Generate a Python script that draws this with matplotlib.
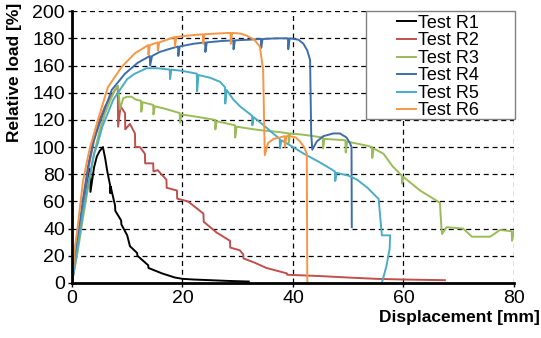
import matplotlib
matplotlib.use("Agg")
import matplotlib.pyplot as plt
from matplotlib.patches import Rectangle

# ---------------- data ----------------
r1_x = [0, 1, 2, 3.0, 3.3, 3.35, 4.0, 4.5, 5.0, 5.6, 6.0, 6.4, 6.9, 6.95, 7.0, 7.8, 7.85,
        8.9, 8.95, 10.0, 10.5, 11.8, 11.85, 13.8, 13.85, 16.3, 18.6, 20, 22, 25, 28, 32]
r1_y = [0, 30, 58, 80, 84, 67, 85, 93, 97, 100, 92, 82, 72, 66, 71, 57, 53,
        46, 43, 35, 27, 22, 20, 13, 11, 7, 4, 3, 2.5, 2, 1.5, 1]

r2_x = [0, 1, 2, 3, 4, 5, 6, 7, 8.3, 8.35, 8.8, 9.6, 9.65, 10.5, 11.4, 11.45, 12.3,
        13.2, 13.25, 14.7, 14.75, 15.5, 17.1, 17.15, 19.0, 19.05, 21.0, 23.8, 23.85,
        26.2, 28.6, 28.65, 30.4, 31.0, 31.05, 33.0, 35.2, 38.9, 38.95, 42, 45, 49.8, 55, 60, 67.5]
r2_y = [0, 28, 58, 85, 105, 120, 130, 137, 145, 115, 130, 125, 113, 117, 110, 100, 100,
        95, 88, 88, 82, 83, 76, 70, 68, 62, 60, 51, 45,
        37, 31, 26, 24, 21, 18, 15, 11, 7, 6, 5.5, 5, 4, 3, 2.5, 2]

r3_x = [0, 1, 2, 3, 4, 5, 6, 7, 7.8, 8.3, 8.5, 8.7, 9.3, 10.0, 10.8, 11.5, 12.5, 12.55,
        12.8, 14.7, 14.75, 15.0, 17.0, 19.5, 19.55, 19.8, 23, 25.9, 25.95, 26.2, 29.5,
        29.55, 29.8, 33, 35, 37.6, 39.2, 39.25, 39.5, 42, 45.4, 45.45, 45.7, 49.5,
        49.55, 49.8, 53.4, 54.3, 54.35, 54.6, 56.4, 58.0, 59.7, 59.75, 60.0, 63.0,
        66.6, 66.9, 67.0, 67.8, 70.8, 72.4, 75.7, 77.5, 79.6, 79.65, 80]
r3_y = [0, 22, 48, 72, 95, 112, 125, 135, 142, 145, 138, 128, 136, 137, 137, 135, 134, 126,
        133, 131, 124, 130, 128, 125, 118, 124, 122, 120, 113, 119, 116,
        107, 115, 113, 112, 111, 110, 103, 110, 109, 107, 99, 106, 105,
        96, 104, 101, 100, 92, 99, 95, 86, 79, 73, 78, 68,
        59, 39, 36, 41, 40, 34, 34, 39, 38, 31, 38]

r4_x = [0, 1, 2, 3, 3.8, 5.4, 7.2, 9.6, 11.9, 14.1, 14.15, 14.5, 15.9, 17.5, 19.2, 19.25,
        19.5, 22.0, 24.1, 24.15, 24.4, 27.0, 29.2, 29.25, 29.5, 32.0, 34.2, 34.25,
        34.5, 37.0, 39.1, 39.15, 39.4, 41.0, 41.9, 42.6, 43.1, 43.3, 43.5, 44.3,
        45.5, 47.3, 48.5, 49.7, 50.3, 50.6, 50.65]
r4_y = [0, 30, 62, 88, 103, 122, 142, 154, 162, 167, 160, 167, 170, 172, 174, 167,
        174, 176, 177, 170, 177, 178, 178.5, 172, 178.5, 179, 179.5, 173,
        179.5, 180, 180, 172, 180, 179, 176, 171, 164, 110, 98, 104,
        108, 110, 110, 107, 103, 100, 41]

r5_x = [0, 1, 2, 3, 4, 4.7, 5.5, 6.5, 7.5, 9.0, 10.0, 11.4, 13.5, 15.5, 17.7, 17.75,
        18.0, 20.0, 22.6, 22.65, 22.9, 25.0, 26.8, 27.7, 27.75, 28.0, 29.2, 30.4,
        32.6, 32.65, 32.9, 35.0, 36.4, 37.6, 37.65, 37.9, 40.0, 42.0, 44.3, 46.0,
        47.6, 47.65, 47.9, 50.0, 51.6, 53.5, 55.2, 55.5, 56.1, 57.6, 57.5, 56.9, 56.1]
r5_y = [0, 25, 52, 75, 95, 103, 115, 125, 135, 144, 150, 154, 158, 158, 157, 150,
        157, 156, 154, 141, 153, 151, 148, 144, 132, 142, 135, 130,
        123, 116, 122, 115, 110, 106, 99, 105, 100, 95, 90, 86,
        82, 75, 81, 79, 76, 70, 63, 62, 35, 35, 25, 12, 0]

r6_x = [0, 0.5, 1, 2, 3, 3.3, 4.7, 6.5, 9.0, 11.4, 13.8, 13.85, 14.1, 15.5, 15.55,
        15.8, 18.6, 18.65, 18.9, 21.0, 23.7, 23.75, 24.0, 26.0, 28.7, 28.75, 29.0,
        30.5, 31.6, 33.0, 34.0, 34.6, 34.9, 35.5, 36.5, 37.6, 38.5, 38.55, 38.8,
        39.5, 40.5, 41.3, 42.0, 42.5, 42.6]
r6_y = [0, 25, 40, 75, 95, 100, 120, 144, 159, 169, 175, 168, 175, 177, 171,
        177, 181, 174, 181, 182, 183, 176, 183, 183.5, 184, 176, 184,
        183.5, 182, 179, 174, 157, 94, 103, 106, 107, 108, 100, 108,
        108, 107, 104, 100, 95, 0]

labels = ["Test R1", "Test R2", "Test R3", "Test R4", "Test R5", "Test R6"]
colors = ["#000000", "#C0504D", "#9BBB59", "#3F6DAA", "#4BACC6", "#F79646"]

x_ticks = [0, 20, 40, 60, 80]
y_ticks = [0, 20, 40, 60, 80, 100, 120, 140, 160, 180, 200]

# ---------------- plot ----------------
plt.rcParams["font.family"] = ["Liberation Sans", "DejaVu Sans"]

fig = plt.figure(figsize=(5.41, 3.38), dpi=100)
ax = fig.add_axes([0.133, 0.163, 0.817, 0.804])

series = [(r1_x, r1_y), (r2_x, r2_y), (r3_x, r3_y), (r4_x, r4_y), (r5_x, r5_y), (r6_x, r6_y)]
for (xs, ys), lab, c in zip(series, labels, colors):
    ax.plot(xs, ys, color=c, lw=1.4, label=lab)

ax.set_xlim(0, 80)
ax.set_ylim(0, 200)
ax.set_xticks(x_ticks)
ax.set_yticks(y_ticks)
ax.tick_params(labelsize=14, direction="out", length=3, width=1, pad=2)
ax.grid(True, color="black", linestyle=(0, (4, 3)), linewidth=0.9)
ax.set_axisbelow(True)
for s in ["top", "right"]:
    ax.spines[s].set_visible(False)
for s in ["left", "bottom"]:
    ax.spines[s].set_linewidth(2)

ax.set_xlabel("Displacement [mm]", fontsize=12.5, fontweight="bold", loc="right")
ax.xaxis.set_label_coords(1.058, -0.1)
ax.set_ylabel("Relative load [%]", fontsize=12.5, fontweight="bold", loc="top")
ax.yaxis.set_label_coords(-0.112, 1.03)

# legend box (frame drawn separately so the entries sit centred in a wider box)
frame = Rectangle((0.665, 0.603), 0.337, 0.397, transform=ax.transAxes,
                  facecolor="white", edgecolor="#808080", linewidth=1,
                  zorder=4.9, clip_on=False)
ax.add_patch(frame)
leg = ax.legend(loc="upper center", fontsize=13, frameon=False,
                handlelength=1.1, handletextpad=0.1, labelspacing=0.03,
                borderpad=0.2, borderaxespad=0,
                bbox_to_anchor=(0.828, 1.0))

fig.savefig("out.png", dpi=100)
